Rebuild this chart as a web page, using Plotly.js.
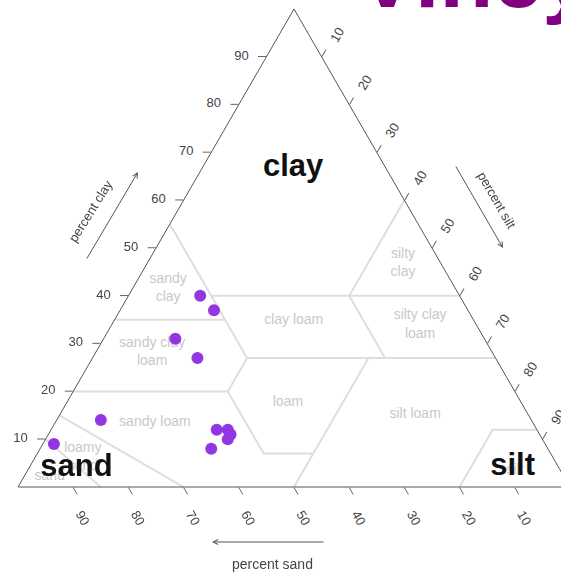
<!DOCTYPE html>
<html>
<head>
<meta charset="utf-8">
<script src="https://cdn.plot.ly/plotly-3.0.1.min.js"></script>
<style>
  html, body { margin: 0; padding: 0; background: #fff; overflow: hidden; }
  #chart { width: 600px; height: 574px; }
</style>
</head>
<body>
<div id="chart"></div>
<script>
// Soil samples: percent clay / sand / silt
const sampleClay = [40, 37, 31, 27, 14, 9, 12, 12, 11, 10, 8];
const sampleSand = [47, 46, 56, 54, 78, 89, 58, 56, 56, 57, 61];
const sampleSilt = [13, 17, 13, 19, 8, 2, 30, 32, 33, 33, 31];

// USDA texture class boundaries, each point as [clay, sand, silt]
const classBoundaries = [
  [[55, 45, 0], [40, 45, 15], [35, 45, 20], [27, 45, 28]],
  [[40, 45, 15], [40, 20, 40], [40, 0, 60]],
  [[40, 20, 40], [60, 0, 40]],
  [[35, 65, 0], [35, 45, 20]],
  [[40, 20, 40], [27, 20, 53]],
  [[27, 45, 28], [27, 0, 73]],
  [[20, 80, 0], [20, 52, 28], [27, 45, 28]],
  [[20, 52, 28], [7, 52, 41], [7, 43, 50], [27, 23, 50]],
  [[7, 43, 50], [0, 50, 50]],
  [[12, 0, 88], [12, 8, 80], [0, 20, 80]],
  [[15, 85, 0], [0, 70, 30]],
  [[10, 90, 0], [0, 85, 15]]
];

// Texture class names and their label anchors [clay, sand, silt]
const classNames = ['sandy<br>clay', 'clay loam', 'silty<br>clay', 'silty clay<br>loam',
  'sandy clay<br>loam', 'loam', 'silt loam', 'sandy loam', 'loamy<br>sand', 'sand', 'silt'];
const classClay = [41.6, 34.9, 46.7, 33.9, 28.2, 17.6, 15.1, 13.4, 6.1, 2.3, 3.5];
const classSand = [52.0, 32.6, 6.9, 10.2, 61.6, 42.3, 20.5, 68.5, 85.2, 93.1, 8.2];
const classSilt = [6.4, 32.5, 46.4, 55.9, 10.2, 40.1, 64.4, 18.1, 8.7, 4.6, 88.3];

// Corner names drawn inside the triangle
const cornerNames = ['clay', 'sand', 'silt'];
const cornerClay = [66.7, 4.0, 4.2];
const cornerSand = [16.8, 87.4, 8.3];
const cornerSilt = [16.5, 8.6, 87.5];

const tickValues = [10, 20, 30, 40, 50, 60, 70, 80, 90];

const bA = [], bB = [], bC = [];
classBoundaries.forEach(function (seg) {
  seg.forEach(function (p) { bA.push(p[0]); bB.push(p[1]); bC.push(p[2]); });
  bA.push(null); bB.push(null); bC.push(null);
});

const font = 'Liberation Sans, Arial, sans-serif';
const gap = '\u00a0\u00a0';

const traces = [
  {
    type: 'scatterternary', mode: 'lines',
    a: bA, b: bB, c: bC,
    line: { color: '#dedede', width: 2 },
    hoverinfo: 'skip', connectgaps: false
  },
  {
    type: 'scatterternary', mode: 'text',
    a: classClay, b: classSand, c: classSilt, text: classNames,
    textfont: { family: font, size: 14, color: '#c8c8c8' },
    hoverinfo: 'skip'
  },
  {
    type: 'scatterternary', mode: 'markers',
    a: sampleClay, b: sampleSand, c: sampleSilt,
    marker: { size: 12, color: '#8d2be2', line: { width: 0 } },
    opacity: 0.95
  },
  {
    type: 'scatterternary', mode: 'text',
    a: cornerClay, b: cornerSand, c: cornerSilt, text: cornerNames,
    textfont: { family: font, size: 31, color: '#111' },
    texttemplate: '<b>%{text}</b>',
    hoverinfo: 'skip'
  }
];

function axis(angle, labels) {
  return {
    title: { text: '' },
    min: 0,
    tickmode: 'array', tickvals: tickValues, ticktext: labels,
    ticks: 'outside', ticklen: 8, tickwidth: 1, tickcolor: '#666',
    tickfont: { family: font, size: 13, color: '#444' },
    tickangle: angle,
    showgrid: false,
    showline: true, linecolor: '#555', linewidth: 1
  };
}

const leftLabels = tickValues.map(function (v) { return v + gap; });
const outLabels = tickValues.map(function (v) { return gap + v; });

// paper coordinates relative to the triangle frame
function px(x) { return (x - 18) / 552; }
function py(y) { return (487 - y) / 478; }

function note(x, y, text, angle, size) {
  return {
    xref: 'paper', yref: 'paper', x: px(x), y: py(y),
    xanchor: 'center', yanchor: 'middle',
    text: text, textangle: angle, showarrow: false,
    font: { family: font, size: size, color: '#444' }
  };
}

function arrow(x, y, ax, ay) {
  return {
    xref: 'paper', yref: 'paper', x: px(x), y: py(y), ax: ax, ay: ay,
    text: '', showarrow: true, arrowhead: 5, arrowsize: 1, arrowwidth: 1, arrowcolor: '#555'
  };
}

const layout = {
  width: 600, height: 574,
  margin: { l: 18, r: 30, t: 9, b: 87 },
  paper_bgcolor: '#fff',
  showlegend: false,
  ternary: {
    sum: 100,
    bgcolor: '#fff',
    domain: { x: [0, 1], y: [0, 1] },
    aaxis: axis(0, leftLabels),
    baxis: axis(60, outLabels),
    caxis: axis(-60, outLabels)
  },
  annotations: [
    arrow(138, 172, -52, 88),
    note(90, 211, 'percent clay', -58, 13),
    arrow(503, 248, -48, -83),
    note(496, 200, 'percent silt', 60, 13),
    arrow(212, 542, 113, 0),
    note(272, 564, 'percent sand', 0, 14),
    { xref: 'paper', yref: 'paper', x: px(356), y: py(28), xanchor: 'left', yanchor: 'bottom',
      text: '<b>Vineyard soils</b>', showarrow: false,
      font: { family: font, size: 88, color: '#800080' } }
  ]
};

Plotly.newPlot('chart', traces, layout, { staticPlot: true, displayModeBar: false });
</script>
</body>
</html>
